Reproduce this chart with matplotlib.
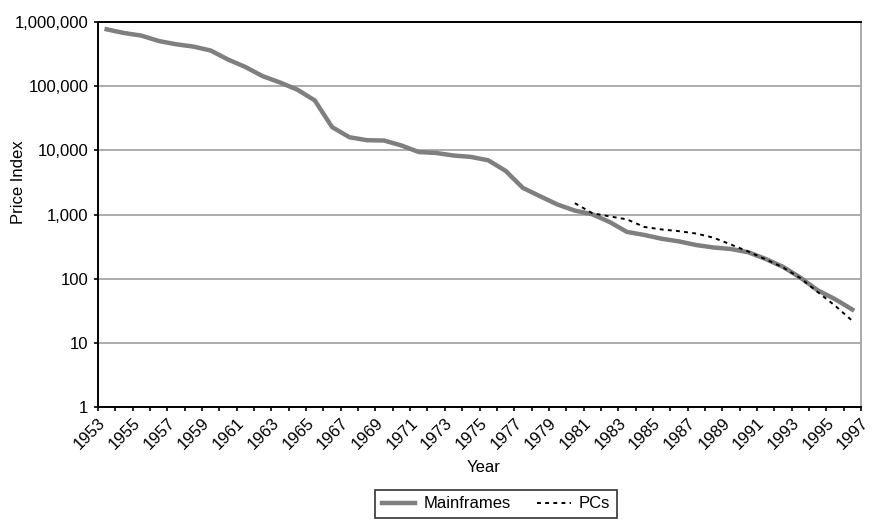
import matplotlib
matplotlib.use("Agg")
import matplotlib.pyplot as plt
from matplotlib.ticker import FixedLocator, FuncFormatter, MultipleLocator, NullLocator

plt.rcParams['font.family'] = ['Liberation Sans', 'DejaVu Sans']

# data (price index, log scale)
# points sit between the year tick marks, like the Excel original
years_mainframe = list(range(1953, 1997))
mainframes = [769000, 674000, 614000, 506000, 450000, 414000, 359000, 260000,
              199000, 143000, 114000, 88000, 60000, 23000, 16000, 14400, 14200,
              11900, 9400, 9100, 8300, 7900, 7000, 4800, 2600, 1920, 1430, 1150,
              1010, 765, 536, 480, 419, 381, 334, 306, 290, 258, 203, 153, 104,
              66, 48, 33]

years_pc = list(range(1980, 1997))
pcs = [1500, 1050, 935, 840, 640, 585, 550, 505, 435, 340, 265, 200, 150,
       102, 62, 38, 22]

y_ticks = [1, 10, 100, 1000, 10000, 100000, 1000000]
x_labels = list(range(1953, 1998, 2))

fig = plt.figure(figsize=(8.73, 5.25), dpi=100)
ax = fig.add_axes([98 / 873, 1 - 407 / 525, (861 - 98) / 873, (407 - 22) / 525])

ax.plot([y + 0.5 for y in years_mainframe], mainframes, color='#7f7f7f', lw=3.2,
        label='Mainframes', solid_joinstyle='round', zorder=3)
ax.plot([y + 0.5 for y in years_pc], pcs, color='black', lw=1.4, ls=(0, (2, 2.2)),
        label='PCs', zorder=4)

ax.set_yscale('log')
ax.set_ylim(1, 1000000)
ax.yaxis.set_major_locator(FixedLocator(y_ticks))
ax.yaxis.set_minor_locator(NullLocator())
ax.yaxis.set_major_formatter(FuncFormatter(lambda v, p: f'{v:,.0f}'))

ax.set_xlim(1953, 1997)
ax.xaxis.set_major_locator(FixedLocator(x_labels))
ax.xaxis.set_minor_locator(MultipleLocator(1))
ax.set_xticklabels([str(y) for y in x_labels], rotation=45, ha='right', va='top',
                   rotation_mode='anchor')

ax.tick_params(axis='both', which='major', labelsize=12, length=3, width=1.2,
               color='black', direction='out')
ax.tick_params(axis='x', which='minor', length=3, width=1.2, direction='out')
ax.tick_params(axis='x', which='major', pad=3)
ax.tick_params(axis='y', which='major', pad=4)

ax.grid(axis='y', color='#a6a6a6', lw=1.3)
ax.set_axisbelow(True)

for side in ['left', 'bottom', 'top']:
    ax.spines[side].set_color('black')
    ax.spines[side].set_linewidth(1.4)
ax.spines['right'].set_color('#a6a6a6')
ax.spines['right'].set_linewidth(1.3)

fig.text(19 / 873, 1 - 182 / 525, 'Price Index', fontsize=12, rotation=90,
         ha='center', va='center')
fig.text(484 / 873, 1 - 467 / 525, 'Year', fontsize=12, ha='center', va='center')

leg = fig.legend(loc='center', bbox_to_anchor=(496 / 873, 1 - 504 / 525), ncol=2,
                 fontsize=12, frameon=True, fancybox=False, edgecolor='black',
                 handlelength=2.0, handletextpad=0.5, columnspacing=1.6,
                 borderpad=0.4)
leg.get_frame().set_linewidth(1.2)

fig.savefig('out.png', dpi=100)
